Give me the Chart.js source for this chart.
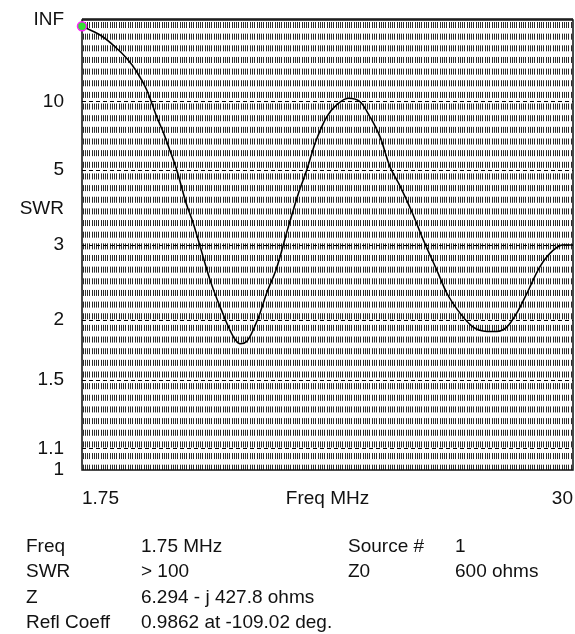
<!DOCTYPE html>
<html>
<head>
<meta charset="utf-8">
<script src="https://cdn.jsdelivr.net/npm/chart.js@4.4.0/dist/chart.umd.min.js"></script>
<style>
  html, body { margin: 0; padding: 0; background: #fff; }
  #wrap { position: relative; width: 575px; height: 634px; font-family: "Liberation Sans", Arial, sans-serif; font-size: 19px; color: #111; }
  #wrap canvas { position: absolute; left: 0; top: 0; }
  .info { position: absolute; white-space: nowrap; line-height: 22px; }
</style>
</head>
<body>
<div id="wrap">
  <canvas id="swrChart" width="575" height="634"></canvas>

  <div class="info" style="left:26px;top:535px">Freq</div>
  <div class="info" style="left:141px;top:535px">1.75 MHz</div>
  <div class="info" style="left:348px;top:535px">Source #</div>
  <div class="info" style="left:455px;top:535px">1</div>

  <div class="info" style="left:26px;top:560px">SWR</div>
  <div class="info" style="left:141px;top:560px">&gt; 100</div>
  <div class="info" style="left:348px;top:560px">Z0</div>
  <div class="info" style="left:455px;top:560px">600 ohms</div>

  <div class="info" style="left:26px;top:586px">Z</div>
  <div class="info" style="left:141px;top:586px">6.294 - j 427.8 ohms</div>

  <div class="info" style="left:26px;top:611px">Refl Coeff</div>
  <div class="info" style="left:141px;top:611px">0.9862 at -109.02 deg.</div>
</div>

<script>
// sweep 1.75 .. 30 MHz, SWR
const freqMHz = [1.75, 2.79, 3.65, 4.32, 4.90, 5.47, 6.05, 6.43, 6.81, 7.20,
  7.77, 8.15, 8.54, 9.12, 9.69, 10.46, 10.84, 11.23, 11.89, 12.38,
  12.95, 13.62, 14.20, 14.68, 15.16, 15.83, 16.40, 17.07, 17.75, 18.32,
  18.90, 19.47, 20.05, 20.72, 21.39, 22.16, 22.73, 23.50, 24.26, 25.04,
  25.61, 26.19, 26.76, 27.34, 28.10, 28.87, 29.44, 30];
const swrValues = [144, 59, 32.7, 22.5, 16.4, 11.9, 8.3, 7.0, 5.9, 5.0,
  3.87, 3.43, 2.98, 2.46, 2.14, 1.84, 1.78, 1.80, 2.02, 2.30,
  2.63, 3.35, 4.19, 5.0, 6.3, 8.3, 9.6, 10.5, 10.0, 8.3,
  6.7, 5.13, 4.42, 3.70, 3.09, 2.60, 2.30, 2.07, 1.93, 1.89,
  1.89, 1.93, 2.07, 2.29, 2.65, 2.91, 3.0, 3.0];

// y axis: SWR ticks (plotted on a reflection-coefficient scale)
const swrTicks = [1, 1.1, 1.5, 2, 3, 5, 10];
const swrTitle = 'SWR';
const swrTitleRho = 0.58;
const infLabel = 'INF';

// x axis labels
const freqMin = 1.75;
const freqMax = 30;
const freqTitle = 'Freq MHz';
const freqGridStep = 0.13;

const FONT = '"Liberation Sans", Arial, sans-serif';
const toRho = s => (s - 1) / (s + 1);

const yTicks = swrTicks.map(s => ({ value: toRho(s), label: String(s), line: s > 1 }))
  .concat([{ value: swrTitleRho, label: swrTitle, line: false },
           { value: 1, label: infLabel, line: false }])
  .sort((a, b) => a.value - b.value);

const freqMid = (freqMin + freqMax) / 2;
const xLabelMap = new Map([[freqMin, '1.75'], [freqMid, freqTitle], [freqMax, '30']]);

function noScalePadding(sc) {
  sc.paddingLeft = 0;
  sc.paddingRight = 0;
  sc.paddingTop = 0;
  sc.paddingBottom = 0;
}

const framePlugin = {
  id: 'frame',
  beforeDatasetsDraw(chart) {
    const { ctx, chartArea: a } = chart;
    ctx.save();
    ctx.strokeStyle = '#111';
    ctx.lineWidth = 1.5;
    ctx.strokeRect(a.left, a.top, a.right - a.left, a.bottom - a.top);
    ctx.beginPath();
    ctx.moveTo(a.left, a.top - 1);
    ctx.lineTo(a.right, a.top - 1);
    ctx.stroke();
    ctx.restore();
  }
};

const ctx = document.getElementById('swrChart');

new Chart(ctx, {
  type: 'line',
  data: {
    datasets: [{
      data: freqMHz.map((f, i) => ({ x: f, y: toRho(swrValues[i]) })),
      borderColor: '#000',
      borderWidth: 1.5,
      cubicInterpolationMode: 'monotone',
      pointRadius: c => c.dataIndex === 0 ? 4.5 : 0,
      pointBackgroundColor: '#33e033',
      pointBorderColor: '#ff22ff',
      pointBorderWidth: 1.5,
      clip: false
    }]
  },
  options: {
    responsive: false,
    animation: false,
    layout: { autoPadding: false, padding: { left: 0, top: 20, right: 2, bottom: 0 } },
    plugins: { legend: { display: false }, tooltip: { enabled: false } },
    scales: {
      x: {
        type: 'linear',
        min: freqMin,
        max: freqMax,
        afterBuildTicks: sc => {
          const vals = [freqMin, freqMid, freqMax];
          for (let v = freqMin + 0.06; v < freqMax - 0.03; v += freqGridStep) vals.push(+v.toFixed(3));
          vals.sort((a, b) => a - b);
          sc.ticks = vals.map(v => ({ value: v }));
        },
        afterFit: sc => { sc.height = 164; noScalePadding(sc); },
        grid: {
          color: c => (c.tick && xLabelMap.has(c.tick.value)) ? 'rgba(0,0,0,0)' : '#2a2a2a',
          lineWidth: 1,
          drawTicks: false
        },
        border: { display: false, dash: [6, 5.65], dashOffset: -2 },
        ticks: {
          autoSkip: false,
          maxRotation: 0,
          minRotation: 0,
          align: 'inner',
          padding: 17,
          color: '#111',
          font: { family: FONT, size: 19 },
          callback: v => xLabelMap.get(v) || ''
        }
      },
      y: {
        type: 'linear',
        min: 0,
        max: 1,
        afterBuildTicks: sc => { sc.ticks = yTicks.map(t => ({ value: t.value })); },
        afterFit: sc => { sc.width = 82; noScalePadding(sc); },
        grid: {
          color: c => (c.index !== undefined && yTicks[c.index] && yTicks[c.index].line) ? '#000' : 'rgba(0,0,0,0)',
          lineWidth: 1,
          drawTicks: false
        },
        border: { display: false, dash: [4, 3] },
        ticks: {
          autoSkip: false,
          padding: 18,
          color: '#111',
          font: { family: FONT, size: 19 },
          callback: (v, i) => yTicks[i] ? yTicks[i].label : ''
        }
      }
    }
  },
  plugins: [framePlugin]
});
</script>
</body>
</html>
